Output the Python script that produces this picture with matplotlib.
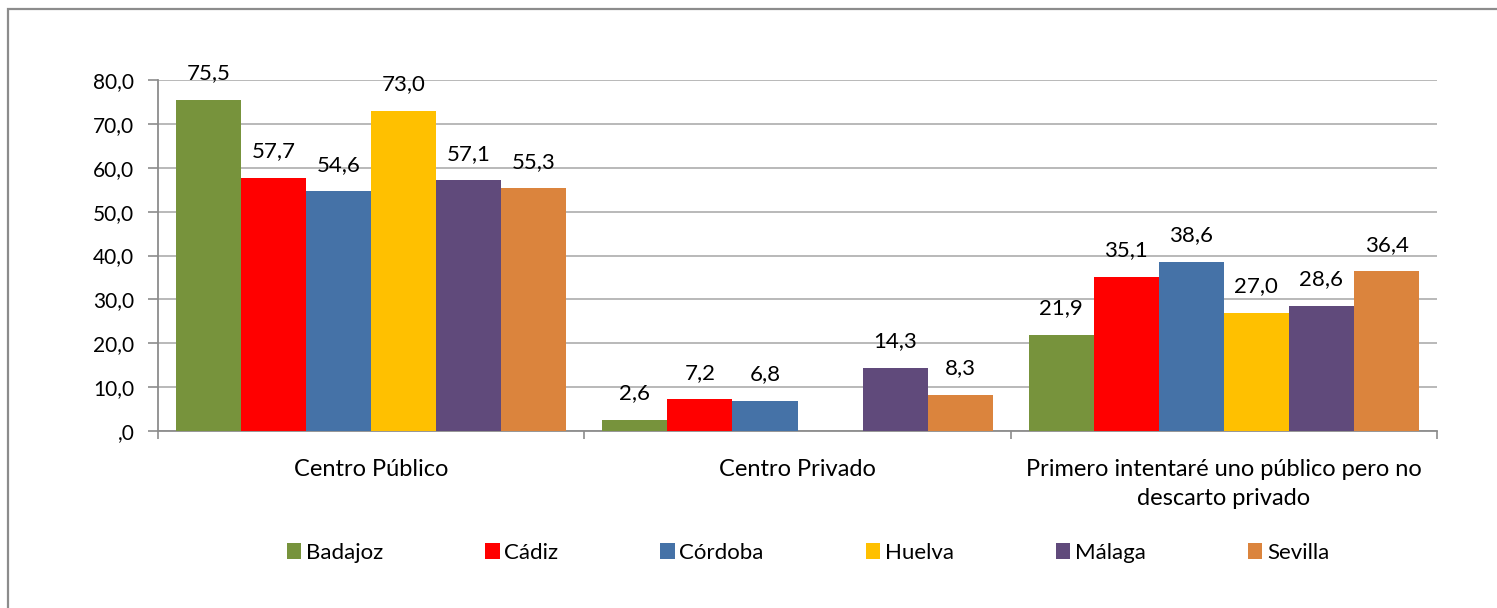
import matplotlib
matplotlib.use('Agg')
import matplotlib.pyplot as plt
import matplotlib.patches as mpatches
import numpy as np

# ── Datos ──────────────────────────────────────────────────────────────────────
categorias = ['Centro Público', 'Centro Privado',
              'Primero intentaré uno público pero no\ndescarto privado']
provincias = ['Badajoz', 'Cádiz', 'Córdoba', 'Huelva', 'Málaga', 'Sevilla']
badajoz = [75.5, 2.6, 21.9]
cadiz   = [57.7, 7.2, 35.1]
cordoba = [54.6, 6.8, 38.6]
huelva  = [73.0, np.nan, 27.0]
malaga  = [57.1, 14.3, 28.6]
sevilla = [55.3, 8.3, 36.4]
series = [badajoz, cadiz, cordoba, huelva, malaga, sevilla]
colores = ['#77933C', '#FF0000', '#4572A7', '#FFC000', '#604A7B', '#DB843D']

plt.rcParams['font.family'] = ['Lato', 'DejaVu Sans']


def coma(v, pos=None):
    s = f'{v:.1f}'.replace('.', ',')
    return s[1:] if s.startswith('0') else s


fig = plt.figure(figsize=(14.97, 6.08), dpi=100)
ax = fig.add_axes([158 / 1497, 1 - 431 / 608, (1437 - 158) / 1497, (431 - 80) / 608])

# marco exterior
fig.patches.append(mpatches.Rectangle((8 / 1497, -0.05), 1.2, 1.05 - 9 / 608,
                                      transform=fig.transFigure, fill=False,
                                      edgecolor='#8C8C8C', linewidth=1.6))

x = np.arange(len(categorias))
ancho = 0.1526
for i, (vals, col, nom) in enumerate(zip(series, colores, provincias)):
    off = (i - 2.5) * ancho
    bars = ax.bar(x + off, vals, width=ancho, color=col, label=nom, zorder=3)
    etiquetas = ['' if np.isnan(v) else coma(v) for v in vals]
    ax.bar_label(bars, labels=etiquetas, padding=12, fontsize=16, zorder=4)

ax.set_xlim(-0.5, 2.5)
ax.set_ylim(0, 80)
ax.set_yticks(np.arange(0, 81, 10))
ax.yaxis.set_major_formatter(plt.FuncFormatter(coma))
ax.grid(axis='y', color='#B3B3B3', linewidth=1.3, zorder=0)
ax.set_axisbelow(True)

ax.set_xticks(x)
ax.set_xticklabels(categorias, linespacing=1.5)
ax.set_xticks([-0.5, 0.5, 1.5, 2.5], minor=True)
ax.tick_params(axis='x', which='major', length=0, pad=20, labelsize=17)
ax.tick_params(axis='x', which='minor', length=6, width=1.2, color='#8C8C8C')
ax.tick_params(axis='y', length=7, width=1.2, color='#8C8C8C', labelsize=15, pad=10)

for s in ['top', 'right']:
    ax.spines[s].set_visible(False)
for s in ['left', 'bottom']:
    ax.spines[s].set_color('#8C8C8C')
    ax.spines[s].set_linewidth(1.3)

ax.legend(loc='center', bbox_to_anchor=(808 / 1497, 1 - 553 / 608),
          bbox_transform=fig.transFigure, ncol=6, frameon=False, fontsize=16,
          handlelength=0.65, handleheight=0.7, handletextpad=0.2,
          columnspacing=4.6)

plt.savefig('out.png', dpi=100)
plt.close()
